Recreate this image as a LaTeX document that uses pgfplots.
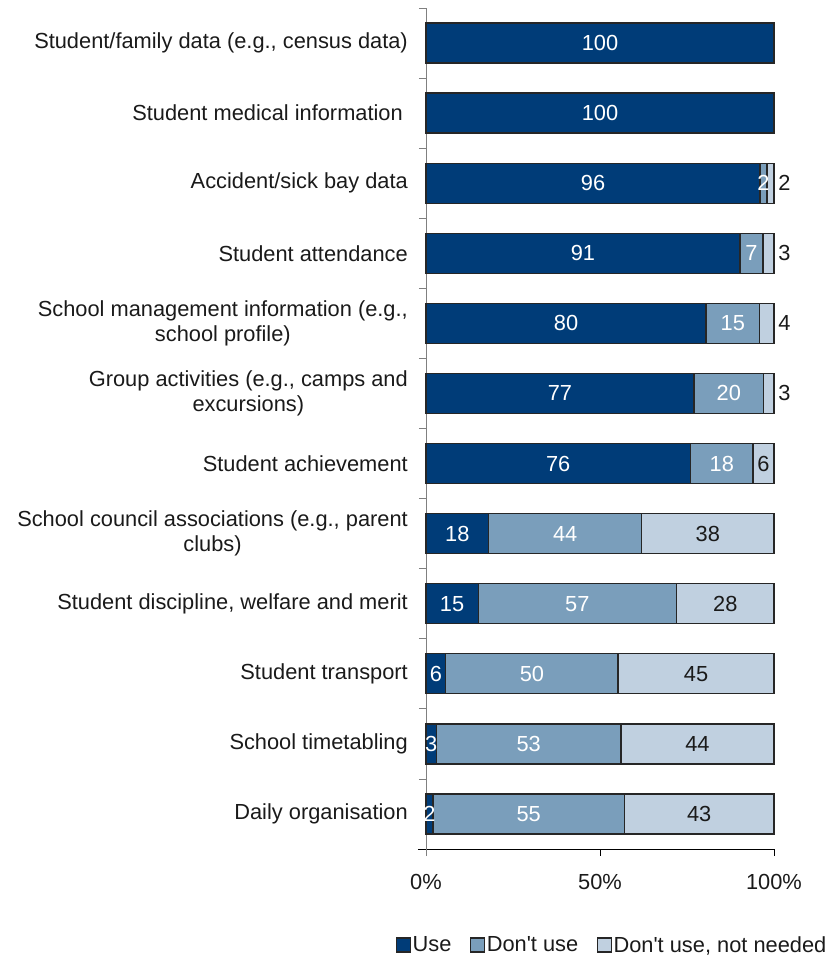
\documentclass[border=0pt]{standalone}
\usepackage{pgfplots}
\pgfplotsset{compat=1.18}
\usepackage{fontspec}
\setmainfont{Liberation Sans}
\definecolor{cUse}{HTML}{003C78}
\definecolor{cDont}{HTML}{7A9EBB}
\definecolor{cNot}{HTML}{C0D0E0}
\definecolor{edge}{HTML}{262626}
\definecolor{txt}{HTML}{1A1A1A}
\newcommand{\chartfont}{\fontsize{21.9}{25}\selectfont}
\newcommand{\barlabels}{%
\node[text=white, inner sep=0pt] at (axis cs:50,11) {100};
\node[text=white, inner sep=0pt] at (axis cs:50,10) {100};
\node[text=white, inner sep=0pt] at (axis cs:48,9) {96};
\node[text=white, inner sep=0pt] at (axis cs:97,9) {2};
\node[text=white, inner sep=0pt] at (axis cs:45.1,8) {91};
\node[text=white, inner sep=0pt] at (axis cs:93.5,8) {7};
\node[text=white, inner sep=0pt] at (axis cs:40.25,7) {80};
\node[text=white, inner sep=0pt] at (axis cs:88.15,7) {15};
\node[text=white, inner sep=0pt] at (axis cs:38.5,6) {77};
\node[text=white, inner sep=0pt] at (axis cs:87,6) {20};
\node[text=white, inner sep=0pt] at (axis cs:38,5) {76};
\node[text=white, inner sep=0pt] at (axis cs:85,5) {18};
\node[text=white, inner sep=0pt] at (axis cs:9,4) {18};
\node[text=white, inner sep=0pt] at (axis cs:40,4) {44};
\node[text=white, inner sep=0pt] at (axis cs:7.5,3) {15};
\node[text=white, inner sep=0pt] at (axis cs:43.5,3) {57};
\node[text=white, inner sep=0pt] at (axis cs:2.85,2) {6};
\node[text=white, inner sep=0pt] at (axis cs:30.45,2) {50};
\node[text=white, inner sep=0pt] at (axis cs:1.5,1) {3};
\node[text=white, inner sep=0pt] at (axis cs:29.5,1) {53};
\node[text=white, inner sep=0pt] at (axis cs:1,0) {2};
\node[text=white, inner sep=0pt] at (axis cs:29.5,0) {55};
\node[text=txt, inner sep=0pt] at (axis cs:97,5) {6};
\node[text=txt, inner sep=0pt] at (axis cs:81,4) {38};
\node[text=txt, inner sep=0pt] at (axis cs:86,3) {28};
\node[text=txt, inner sep=0pt] at (axis cs:77.6,2) {45};
\node[text=txt, inner sep=0pt] at (axis cs:78,1) {44};
\node[text=txt, inner sep=0pt] at (axis cs:78.5,0) {43};
\node[text=txt, inner sep=0pt, anchor=west] at (axis cs:101.2,9) {2};
\node[text=txt, inner sep=0pt, anchor=west] at (axis cs:101.2,8) {3};
\node[text=txt, inner sep=0pt, anchor=west] at (axis cs:101.2,7) {4};
\node[text=txt, inner sep=0pt, anchor=west] at (axis cs:101.2,6) {3};
}
\begin{document}
\begin{tikzpicture}[font=\chartfont]
\begin{axis}[
  at={(0,0)}, anchor=south west,
  scale only axis, width=348bp, height=841bp,
  xbar stacked, bar width=40bp,
  xmin=0, xmax=100, ymin=-0.5, ymax=11.5,
  axis x line*=bottom, axis y line*=left,
  x axis line style={draw=black, line width=0.8bp, shorten <=-8bp},
  y axis line style={draw=gray, line width=0.8bp, shorten <=-7bp},
  xtick={0,50,100}, xticklabels={0\%,50\%,100\%},
  ytick={0,...,11},
  yticklabels={
    Daily organisation,
    School timetabling,
    Student transport,
    {Student discipline, welfare and merit},
    {School council associations (e.g., parent\\clubs)},
    Student achievement,
    {Group activities (e.g., camps and\\excursions)},
    {School management information (e.g.,\\school profile)},
    Student attendance,
    Accident/sick bay data,
    {Student medical information\hspace*{5bp}},
    {Student/family data (e.g., census data)}
  },
  minor ytick={-0.5,0.5,...,11.5},
  tick align=outside, major tick length=7bp, minor tick length=7bp,
  ytick style={draw=none},
  minor y tick style={draw=gray, line width=0.8bp},
  xtick style={draw=black, line width=0.8bp},
  tick label style={font=\chartfont, text=txt},
  yticklabel style={align=center, inner sep=0pt, xshift=-11bp},
  xticklabel style={inner sep=0pt, yshift=-18bp},
  legend style={at={(1.164,-0.1141)}, anchor=east, draw=none, fill=none,
    legend columns=3, font=\chartfont, text=txt,
    nodes={inner sep=1.5bp},
    /tikz/every odd column/.append style={column sep=0bp},
    /tikz/every even column/.append style={column sep=17bp}},
  legend image code/.code={\draw[#1] (0bp,-7bp) rectangle (14bp,7bp);},
  clip=false,
  after end axis/.code={\barlabels},
]
\addplot[fill=cUse, draw=edge, line width=1.3bp] coordinates {(2,0) (3,1) (5.7,2) (15,3) (18,4) (76,5) (77,6) (80.5,7) (90.2,8) (96,9) (100,10) (100,11)};
\addplot[fill=cDont, draw=edge, line width=1.3bp] coordinates {(55,0) (53,1) (49.5,2) (57,3) (44,4) (18,5) (20,6) (15.3,7) (6.6,8) (2,9) (0,10) (0,11)};
\addplot[fill=cNot, draw=edge, line width=1.3bp] coordinates {(43,0) (44,1) (44.8,2) (28,3) (38,4) (6,5) (3,6) (4.2,7) (3.2,8) (2,9) (0,10) (0,11)};
\legend{Use, Don\textquotesingle t use, {Don\textquotesingle t use, not needed}}
\end{axis}
\pgfresetboundingbox
\path[use as bounding box] (-426bp,-111bp) rectangle (405bp,849bp);
\end{tikzpicture}
\end{document}
